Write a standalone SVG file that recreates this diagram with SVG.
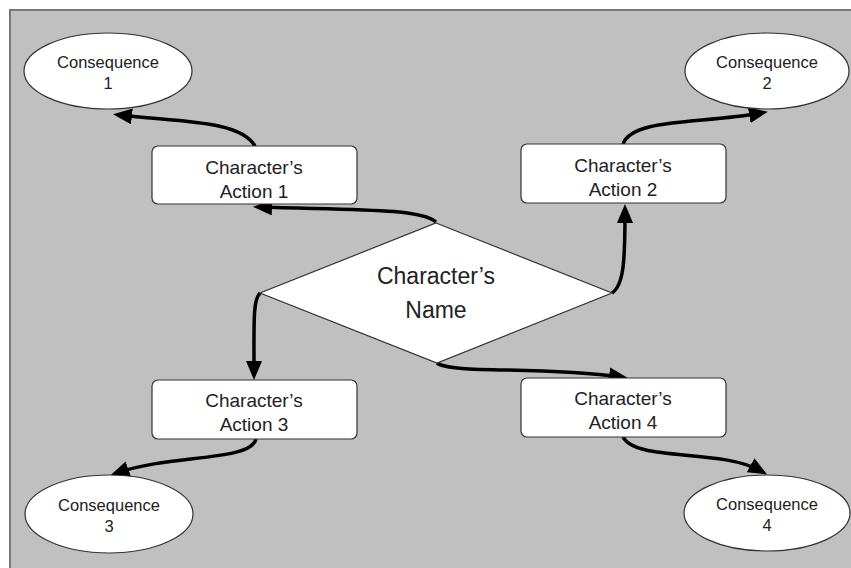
<svg xmlns="http://www.w3.org/2000/svg" width="851" height="568" viewBox="0 0 851 568">
<defs>
<style>
.bg{fill:#c0c0c0;stroke:#777;stroke-width:2}
.ell{fill:#fff;stroke:#333;stroke-width:1.2}
.box{fill:#fff;stroke:#333;stroke-width:1.2}
.dia{fill:#fff;stroke:#333;stroke-width:1.2}
.t{font-family:"Liberation Sans","DejaVu Sans",sans-serif;fill:#222;text-anchor:middle}
.te{font-size:16.5px}
.tb{font-size:19px}
.td{font-size:23px}
.c{fill:none;stroke:#000;stroke-width:3.5;stroke-linecap:butt}
</style>
<marker id="ah" markerUnits="userSpaceOnUse" markerWidth="20" markerHeight="16" refX="12" refY="8" orient="auto">
<path d="M0,0 L19,8 L0,16 z" fill="#000"/>
</marker>
</defs>
<rect class="bg" x="10" y="10" width="850" height="570"/>
<g id="connectors">
<path class="c" marker-end="url(#ah)" d="M255,146 C240,120 180,122 120,115"/>
<path class="c" marker-end="url(#ah)" d="M436,222 C420,208 350,210 260,207"/>
<path class="c" marker-end="url(#ah)" d="M612,293 C624,285 625,260 625,211"/>
<path class="c" marker-end="url(#ah)" d="M623,144 C632,118 700,124 761,113"/>
<path class="c" marker-end="url(#ah)" d="M260,293 C253,300 254,320 254,373"/>
<path class="c" marker-end="url(#ah)" d="M437,363 C452,374 540,366 621,377"/>
<path class="c" marker-end="url(#ah)" d="M256,439 C250,462 170,454 117,473"/>
<path class="c" marker-end="url(#ah)" d="M623,437 C636,462 720,448 761,471"/>
</g>
<g id="name">
<polygon class="dia" points="436,223 612,293 437,363 260,293"/>
<text class="t td" x="436" y="284">Character’s</text>
<text class="t td" x="436" y="318">Name</text>
</g>
<g id="action1">
<rect class="box" x="152" y="146" width="205" height="58" rx="6"/>
<text class="t tb" x="254" y="174">Character’s</text>
<text class="t tb" x="254" y="198">Action 1</text>
</g>
<g id="action2">
<rect class="box" x="521" y="144" width="205" height="59" rx="6"/>
<text class="t tb" x="623" y="172">Character’s</text>
<text class="t tb" x="623" y="196">Action 2</text>
</g>
<g id="action3">
<rect class="box" x="152" y="380" width="205" height="59" rx="6"/>
<text class="t tb" x="254" y="407">Character’s</text>
<text class="t tb" x="254" y="431">Action 3</text>
</g>
<g id="action4">
<rect class="box" x="521" y="378" width="205" height="59" rx="6"/>
<text class="t tb" x="623" y="405">Character’s</text>
<text class="t tb" x="623" y="429">Action 4</text>
</g>
<g id="consequence1">
<ellipse class="ell" cx="108" cy="71" rx="84" ry="38"/>
<text class="t te" x="108" y="68">Consequence</text>
<text class="t te" x="108" y="89">1</text>
</g>
<g id="consequence2">
<ellipse class="ell" cx="767" cy="71" rx="82" ry="38"/>
<text class="t te" x="767" y="68">Consequence</text>
<text class="t te" x="767" y="89">2</text>
</g>
<g id="consequence3">
<ellipse class="ell" cx="109" cy="514" rx="84" ry="39"/>
<text class="t te" x="109" y="511">Consequence</text>
<text class="t te" x="109" y="532">3</text>
</g>
<g id="consequence4">
<ellipse class="ell" cx="767" cy="513" rx="83" ry="38"/>
<text class="t te" x="767" y="510">Consequence</text>
<text class="t te" x="767" y="531">4</text>
</g>
</svg>
